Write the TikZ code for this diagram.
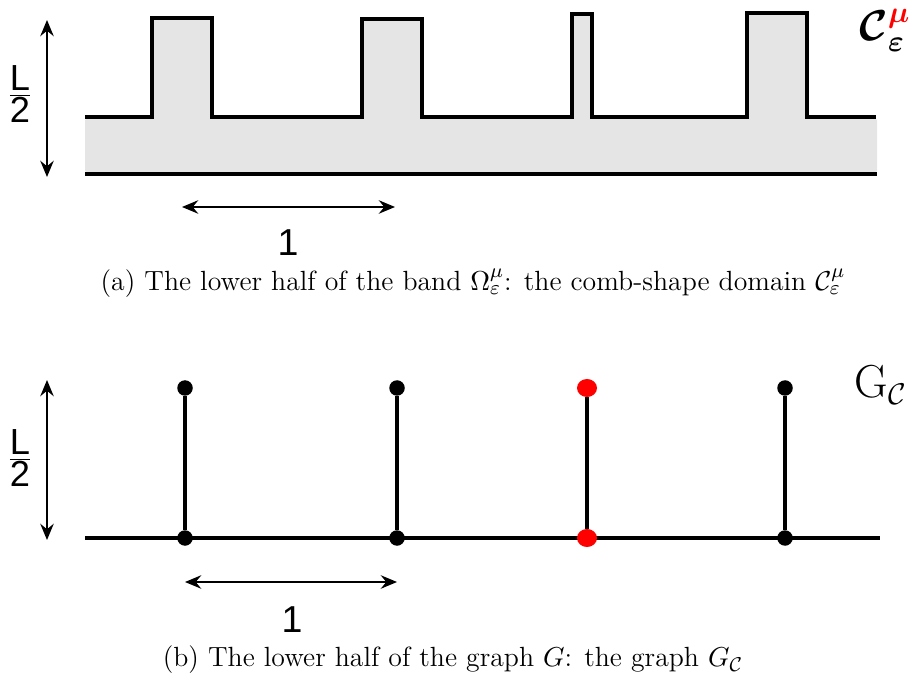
\documentclass[tikz,border=0pt]{standalone}
\usepackage{amsmath}
\usepackage{fontspec}
\newfontfamily\arial{Liberation Sans}
\usetikzlibrary{arrows.meta,shapes.geometric}
\definecolor{combgray}{HTML}{E5E5E5}
\newcommand{\combC}{\mathcal{C}}
\newcommand{\halfL}{$\frac{\mbox{\arial L}}{\mbox{\arial 2}}$}
\begin{document}
\begin{tikzpicture}[x=0.4pt,y=-0.4pt,
  outline/.style={line width=1.45pt,line join=miter},
  dimarrow/.style={line width=0.8pt,{Stealth[length=6.5pt,width=5.4pt,inset=2.2pt]}-{Stealth[length=6.5pt,width=5.4pt,inset=2.2pt]}},
  edge/.style={line width=1.3pt},
  bdot/.style={circle,fill=black,inner sep=0pt,minimum size=6.2pt},
  rdot/.style={ellipse,fill=red,inner sep=0pt,minimum width=8pt,minimum height=7.2pt},
  dimlabel/.style={font=\arial\fontsize{15}{18}\selectfont,inner sep=0pt},
  fraclabel/.style={font=\arial\fontsize{14.5}{17}\selectfont,inner sep=0pt},
  caption/.style={font=\fontsize{11.1}{13}\selectfont,inner sep=0pt}]
\useasboundingbox (0,0) rectangle (917,677);
% ---------- (a) comb ----------
\fill[combgray,rounded corners=1.5pt] (85,117) -- (877,117) -- (877,174) -- (85,174) -- cycle;
\fill[combgray] (152,117) rectangle (212,18);
\fill[combgray] (362,117) rectangle (422,19);
\fill[combgray] (572,117) rectangle (592,14);
\fill[combgray] (747,117) rectangle (807,13);
\draw[outline] (85,117) -- (152,117) -- (152,18) -- (212,18) -- (212,117)
  -- (362,117) -- (362,19) -- (422,19) -- (422,117)
  -- (572,117) -- (572,14) -- (592,14) -- (592,117)
  -- (747,117) -- (747,13) -- (807,13) -- (807,117) -- (876,117);
\draw[outline] (85,174) -- (877,174);
\node[font=\fontsize{18}{21}\selectfont,inner sep=0pt] (clabel) at (885,30) {$\boldsymbol{\combC}_{\boldsymbol{\varepsilon}}^{\textcolor{red}{\boldsymbol{\mu}}}$};
\coordinate (at1) at (47,20);
\coordinate (ab1) at (47,177);
\draw[dimarrow] (at1) -- (ab1);
\node[fraclabel] (lh1) at (20,94) {\halfL};
\coordinate (al1) at (182,207);
\coordinate (ar1) at (395,207);
\draw[dimarrow] (al1) -- (ar1);
\node[dimlabel] (one1) at (288,243) {1};
\node[caption] (capa) at (473,283) {(a) The lower half of the band $\Omega^{\mu}_{\varepsilon}$: the comb-shape domain $\combC^{\mu}_{\varepsilon}$};
% ---------- (b) graph ----------
\coordinate (hl) at (85,538);
\coordinate (hr) at (880,538);
\draw[edge] (hl) -- (hr);
\node[bdot] (b1) at (185,538) {};
\node[bdot] (b2) at (397,538) {};
\node[rdot] (b3) at (587,538) {};
\node[bdot] (b4) at (785,538) {};
\node[bdot] (t1) at (185,388) {};
\node[bdot] (t2) at (397,388) {};
\node[rdot] (t3) at (587,388) {};
\node[bdot] (t4) at (785,388) {};
\draw[edge] (b1) -- (t1);
\draw[edge] (b2) -- (t2);
\draw[edge] (b3) -- (t3);
\draw[edge] (b4) -- (t4);
\node[font=\fontsize{18.5}{22}\selectfont,inner sep=0pt] (glabel) at (881,385) {G$_{\combC}$};
\coordinate (at2) at (47,380);
\coordinate (ab2) at (47,540);
\draw[dimarrow] (at2) -- (ab2);
\node[fraclabel] (lh2) at (20,458) {\halfL};
\coordinate (al2) at (185,582);
\coordinate (ar2) at (397,582);
\draw[dimarrow] (al2) -- (ar2);
\node[dimlabel] (one2) at (292,620) {1};
\node[caption] (capb) at (453,660) {(b) The lower half of the graph $G$: the graph $G_{\combC}$};
\end{tikzpicture}
\end{document}
